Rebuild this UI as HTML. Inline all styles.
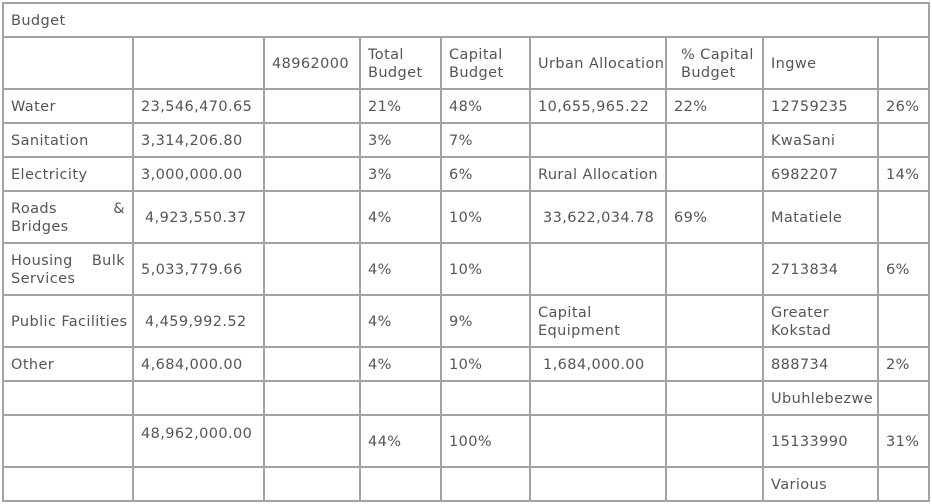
<!DOCTYPE html>
<html><head><meta charset="utf-8"><style>
html,body{margin:0;padding:0;background:#fff;width:932px;height:504px;overflow:hidden}
body{position:relative;font-family:"DejaVu Sans","Liberation Sans",sans-serif;font-size:14.5px;letter-spacing:0.4px;color:#555}
.h{position:absolute;height:2px;background:#a3a3a3;left:2px;width:928px}
.v{position:absolute;width:2px;background:#a3a3a3;top:36px;height:466px}
.c{position:absolute;display:flex;align-items:center;line-height:18px;box-sizing:border-box;padding-left:8px;padding-top:2px}
</style></head><body>
<div class="h" style="top:2px"></div>
<div class="h" style="top:36px"></div>
<div class="h" style="top:88px"></div>
<div class="h" style="top:122px"></div>
<div class="h" style="top:156px"></div>
<div class="h" style="top:190px"></div>
<div class="h" style="top:242px"></div>
<div class="h" style="top:294px"></div>
<div class="h" style="top:346px"></div>
<div class="h" style="top:380px"></div>
<div class="h" style="top:414px"></div>
<div class="h" style="top:466px"></div>
<div class="h" style="top:500px"></div>
<div class="v" style="left:2px;top:2px;height:500px"></div>
<div class="v" style="left:132px"></div>
<div class="v" style="left:263px"></div>
<div class="v" style="left:359px"></div>
<div class="v" style="left:440px"></div>
<div class="v" style="left:529px"></div>
<div class="v" style="left:665px"></div>
<div class="v" style="left:762px"></div>
<div class="v" style="left:877px"></div>
<div class="v" style="left:928px;top:2px;height:500px"></div>

<div class="c" style="left:3px;top:4px;width:300px;height:32px">Budget</div>

<div class="c" style="left:264px;top:38px;height:50px">48962000</div>
<div class="c" style="left:360px;top:38px;height:50px">Total<br>Budget</div>
<div class="c" style="left:441px;top:38px;height:50px">Capital<br>Budget</div>
<div class="c" style="left:530px;top:38px;height:50px">Urban Allocation</div>
<div class="c" style="left:666px;top:38px;height:50px;padding-left:15px">% Capital<br>Budget</div>
<div class="c" style="left:763px;top:38px;height:50px">Ingwe</div>

<div class="c" style="left:3px;top:90px;height:32px">Water</div>
<div class="c" style="left:133px;top:90px;height:32px">23,546,470.65</div>
<div class="c" style="left:360px;top:90px;height:32px">21%</div>
<div class="c" style="left:441px;top:90px;height:32px">48%</div>
<div class="c" style="left:530px;top:90px;height:32px">10,655,965.22</div>
<div class="c" style="left:666px;top:90px;height:32px">22%</div>
<div class="c" style="left:763px;top:90px;height:32px">12759235</div>
<div class="c" style="left:878px;top:90px;height:32px">26%</div>

<div class="c" style="left:3px;top:124px;height:32px">Sanitation</div>
<div class="c" style="left:133px;top:124px;height:32px">3,314,206.80</div>
<div class="c" style="left:360px;top:124px;height:32px">3%</div>
<div class="c" style="left:441px;top:124px;height:32px">7%</div>
<div class="c" style="left:763px;top:124px;height:32px">KwaSani</div>

<div class="c" style="left:3px;top:158px;height:32px">Electricity</div>
<div class="c" style="left:133px;top:158px;height:32px">3,000,000.00</div>
<div class="c" style="left:360px;top:158px;height:32px">3%</div>
<div class="c" style="left:441px;top:158px;height:32px">6%</div>
<div class="c" style="left:530px;top:158px;height:32px">Rural Allocation</div>
<div class="c" style="left:763px;top:158px;height:32px">6982207</div>
<div class="c" style="left:878px;top:158px;height:32px">14%</div>

<div class="c" style="left:3px;top:192px;height:50px;width:130px;padding-right:8px;display:block;padding-top:8px"><div style="display:flex;justify-content:space-between"><span>Roads</span><span>&amp;</span></div>Bridges</div>
<div class="c" style="left:133px;top:192px;height:50px;padding-left:12px">4,923,550.37</div>
<div class="c" style="left:360px;top:192px;height:50px">4%</div>
<div class="c" style="left:441px;top:192px;height:50px">10%</div>
<div class="c" style="left:530px;top:192px;height:50px;padding-left:13px">33,622,034.78</div>
<div class="c" style="left:666px;top:192px;height:50px">69%</div>
<div class="c" style="left:763px;top:192px;height:50px">Matatiele</div>

<div class="c" style="left:3px;top:244px;height:50px;width:130px;padding-right:8px;display:block;padding-top:8px"><div style="display:flex;justify-content:space-between"><span>Housing</span><span>Bulk</span></div>Services</div>
<div class="c" style="left:133px;top:244px;height:50px">5,033,779.66</div>
<div class="c" style="left:360px;top:244px;height:50px">4%</div>
<div class="c" style="left:441px;top:244px;height:50px">10%</div>
<div class="c" style="left:763px;top:244px;height:50px">2713834</div>
<div class="c" style="left:878px;top:244px;height:50px">6%</div>

<div class="c" style="left:3px;top:296px;height:50px">Public Facilities</div>
<div class="c" style="left:133px;top:296px;height:50px;padding-left:12px">4,459,992.52</div>
<div class="c" style="left:360px;top:296px;height:50px">4%</div>
<div class="c" style="left:441px;top:296px;height:50px">9%</div>
<div class="c" style="left:530px;top:296px;height:50px">Capital<br>Equipment</div>
<div class="c" style="left:763px;top:296px;height:50px">Greater<br>Kokstad</div>

<div class="c" style="left:3px;top:348px;height:32px">Other</div>
<div class="c" style="left:133px;top:348px;height:32px">4,684,000.00</div>
<div class="c" style="left:360px;top:348px;height:32px">4%</div>
<div class="c" style="left:441px;top:348px;height:32px">10%</div>
<div class="c" style="left:530px;top:348px;height:32px;padding-left:13px">1,684,000.00</div>
<div class="c" style="left:763px;top:348px;height:32px">888734</div>
<div class="c" style="left:878px;top:348px;height:32px">2%</div>

<div class="c" style="left:763px;top:382px;height:32px">Ubuhlebezwe</div>

<div class="c" style="left:133px;top:416px;height:34px">48,962,000.00</div>
<div class="c" style="left:360px;top:416px;height:50px">44%</div>
<div class="c" style="left:441px;top:416px;height:50px">100%</div>
<div class="c" style="left:763px;top:416px;height:50px">15133990</div>
<div class="c" style="left:878px;top:416px;height:50px">31%</div>

<div class="c" style="left:763px;top:468px;height:32px">Various</div>
</body></html>
